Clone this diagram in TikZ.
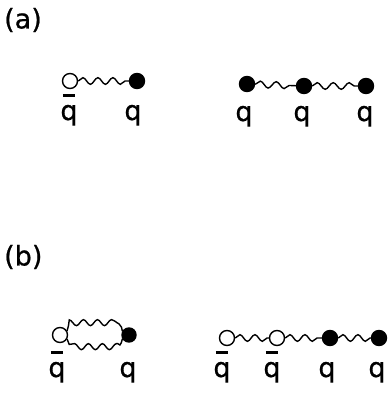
\documentclass[tikz,border=0pt]{standalone}
\usepackage{fontspec}
\setmainfont{DejaVu Sans}[FakeBold=0.8]
\usetikzlibrary{decorations.pathmorphing}
\newcommand{\qbarx}{\ooalign{q\cr\hidewidth\raisebox{0.86em}{\rule{0.46em}{0.09em}}\hidewidth\cr}}
\begin{document}
\begin{tikzpicture}[x=1pt,y=-1pt,
  quark/.style={circle,draw,fill=black,line width=1.4pt,inner sep=0pt,minimum size=15pt},
  aquark/.style={circle,draw,fill=white,line width=1.4pt,inner sep=0pt,minimum size=15pt},
  wave/.style={line width=1.4pt,decorate,decoration={snake,amplitude=3.3pt,segment length=15pt}},
  lab/.style={anchor=base,inner sep=0pt,font=\fontsize{27}{27}\selectfont},
  panel/.style={anchor=west,inner sep=0pt,font=\fontsize{27}{27}\selectfont}]
\useasboundingbox (0,0) rectangle (388,393);
% panel labels
\node[panel] (pa) at (4,20) {(a)};
\node[panel] (pb) at (4,257) {(b)};
% (a) left: meson
\node[aquark] (a1) at (70,81) {};
\node[quark] (a2) at (137,81) {};
\draw[wave,decoration={segment length=15pt}] (a1) -- (a2);
\node[lab] (la1) at (69,120) {\qbarx};
\node[lab] (la2) at (133,120) {q};
% (a) right: baryon
\node[quark] (b1) at (247,84) {};
\node[quark] (b2) at (304,86) {};
\node[quark] (b3) at (366,86) {};
\draw[wave,decoration={segment length=16pt}] (b1) -- (b2);
\draw[wave,decoration={segment length=16pt}] (b2) -- (b3);
\node[lab] (lb1) at (244,121) {q};
\node[lab] (lb2) at (302,121) {q};
\node[lab] (lb3) at (365,121) {q};
% (b) left: meson with double string
\node[aquark] (c1) at (60,335) {};
\node[quark,minimum size=14pt] (c2) at (129,335) {};
\draw[wave,decoration={segment length=14pt,amplitude=3pt,pre length=6pt,post length=4pt}]
  (c1.30) .. controls (68,324) .. (76,324) -- (114,324) .. controls (121,324) .. (c2.150);
\draw[wave,decoration={segment length=14pt,amplitude=3pt,pre length=6pt,post length=4pt}]
  (c1.-30) .. controls (68,345) .. (76,345) -- (114,345) .. controls (121,345) .. (c2.-150);
\node[lab] (lc1) at (57,377) {\qbarx};
\node[lab] (lc2) at (128,377) {q};
% (b) right: chain
\node[aquark] (d1) at (227,338) {};
\node[aquark] (d2) at (277,338) {};
\node[quark] (d3) at (330,338) {};
\node[quark] (d4) at (379,338) {};
\draw[wave,decoration={segment length=15pt}] (d1) -- (d2);
\draw[wave,decoration={segment length=15pt}] (d2) -- (d3);
\draw[wave,decoration={segment length=15pt}] (d3) -- (d4);
\node[lab] (ld1) at (222,377) {\qbarx};
\node[lab] (ld2) at (272,377) {\qbarx};
\node[lab] (ld3) at (327,377) {q};
\node[lab] (ld4) at (377,377) {q};
\end{tikzpicture}
\end{document}
